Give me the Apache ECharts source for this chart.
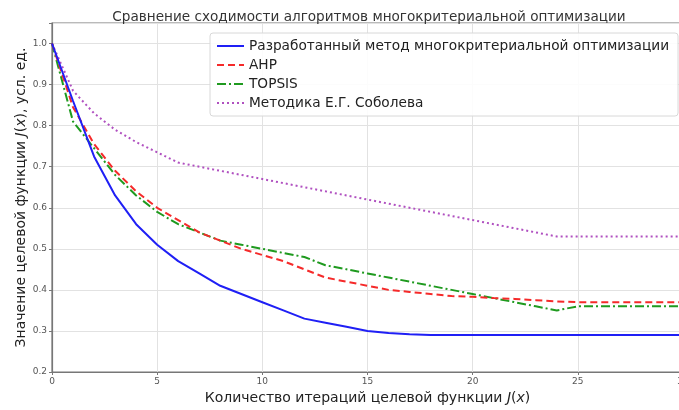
<!DOCTYPE html>
<html><head><meta charset="utf-8">
<script src="https://cdn.jsdelivr.net/npm/echarts@6/dist/echarts.min.js"></script>
<style>html,body{margin:0;padding:0;background:#fff}#c{width:679px;height:410px}</style>
</head><body><div id="c"></div>
<script>
var iterations = [0,1,2,3,4,5,6,7,8,9,10,11,12,13,14,15,16,17,18,19,20,21,22,23,24,25,26,27,28,29,30];
var seriesNames = ['Разработанный метод многокритериальной оптимизации','AHP','TOPSIS','Методика Е.Г. Соболева'];
var developed = [1.0,0.86,0.725,0.63,0.56,0.51,0.47,0.44,0.41,0.39,0.37,0.35,0.33,0.32,0.31,0.30,0.295,0.292,0.29,0.29,0.29,0.29,0.29,0.29,0.29,0.29,0.29,0.29,0.29,0.29,0.29];
var ahp = [1.0,0.845,0.755,0.69,0.64,0.60,0.57,0.54,0.52,0.50,0.485,0.47,0.45,0.43,0.42,0.41,0.40,0.395,0.39,0.385,0.383,0.38,0.378,0.375,0.372,0.37,0.37,0.37,0.37,0.37,0.37];
var topsis = [1.0,0.81,0.745,0.68,0.63,0.59,0.56,0.54,0.52,0.51,0.50,0.49,0.48,0.46,0.45,0.44,0.43,0.42,0.41,0.40,0.39,0.38,0.37,0.36,0.35,0.36,0.36,0.36,0.36,0.36,0.36];
var sobolev = [1.0,0.885,0.83,0.79,0.76,0.735,0.71,0.70,0.69,0.68,0.67,0.66,0.65,0.64,0.63,0.62,0.61,0.60,0.59,0.58,0.57,0.56,0.55,0.54,0.53,0.53,0.53,0.53,0.53,0.53,0.53];
var xTicks = [0,5,10,15,20,25,30];
var yTicks = [0.2,0.3,0.4,0.5,0.6,0.7,0.8,0.9,1.0];

function pairs(arr){ return iterations.map(function(x,i){ return [x, arr[i]]; }); }
var FONT = 'DejaVu Sans';
var styles = [
  {color:'#1f1ff5', type:'solid'},
  {color:'#f52a2a', type:[7,4]},
  {color:'#1f9a1f', type:[9,3,2,3]},
  {color:'#b050c0', type:[2,3]}
];
var allData = [developed, ahp, topsis, sobolev];

var chart = echarts.init(document.getElementById('c'));
chart.setOption({
  animation:false,
  backgroundColor:'#ffffff',
  title:{text:'Сравнение сходимости алгоритмов многокритериальной оптимизации', left:364, textAlign:'center', top:5,
    textStyle:{fontFamily:FONT,fontSize:13.6,fontWeight:'normal',color:'#333'}},
  grid:{left:52, right:-4, top:23, bottom:38, outerBoundsMode:'none', containLabel:false, show:true, borderColor:'#777', borderWidth:1.2, backgroundColor:'transparent'},
  legend:{orient:'vertical', left:210, top:33, padding:[6,9,6,6], itemGap:5, itemWidth:27, itemHeight:14,
    backgroundColor:'rgba(255,255,255,0.9)', borderColor:'#d8d8d8', borderWidth:1, borderRadius:3,
    itemStyle:{opacity:0},
    textStyle:{fontFamily:FONT,fontSize:13.7,color:'#222'}, data:seriesNames},
  xAxis:{type:'value', min:xTicks[0], max:xTicks[xTicks.length-1], interval:5,
    name:'Количество итераций целевой функции {i|J}({i|x})', nameLocation:'middle', nameGap:19,
    nameTextStyle:{fontFamily:FONT,fontSize:14,color:'#222', rich:{i:{fontFamily:FONT,fontSize:14,fontStyle:'italic',color:'#222'}}},
    axisLine:{show:true,lineStyle:{color:'#777',width:1.2}},
    axisTick:{show:true,length:3,lineStyle:{color:'#777'}},
    axisLabel:{fontFamily:FONT,fontSize:9,color:'#555',margin:5},
    splitLine:{show:true,lineStyle:{color:'#e2e2e2',width:1}}},
  yAxis:{type:'value', min:0.2, max:1.05, interval:0.1,
    name:'Значение целевой функции {i|J}({i|x}), усл. ед.', nameLocation:'middle', nameGap:24, nameMoveOverlap:false,
    nameTextStyle:{fontFamily:FONT,fontSize:14,color:'#222', rich:{i:{fontFamily:FONT,fontSize:14,fontStyle:'italic',color:'#222'}}},
    axisLine:{show:true,lineStyle:{color:'#777',width:1.2}},
    axisTick:{show:true,length:3,lineStyle:{color:'#777'}},
    axisLabel:{fontFamily:FONT,fontSize:9,color:'#555',margin:5,
      formatter:function(v){ var r=Math.round(v*10)/10; return Math.abs(r-v)<1e-6 && yTicks.indexOf(r)>=0 ? r.toFixed(1) : ''; }},
    splitLine:{show:true,lineStyle:{color:'#e2e2e2',width:1}}},
  series: seriesNames.map(function(n,i){
    return {name:n, type:'line', symbol:'none', data:pairs(allData[i]), z:10-i,
      lineStyle:{color:styles[i].color, type:styles[i].type, width:2}, itemStyle:{color:styles[i].color}};
  })
});
</script></body></html>
